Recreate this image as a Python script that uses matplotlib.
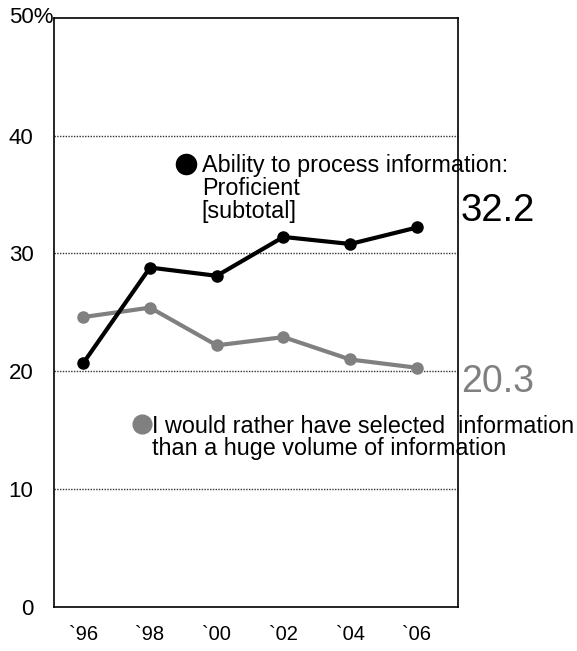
import matplotlib
matplotlib.use("Agg")
import matplotlib.pyplot as plt

plt.rcParams['font.family'] = ['Liberation Sans', 'DejaVu Sans']

years = ["`96", "`98", "`00", "`02", "`04", "`06"]
proficient = [20.7, 28.8, 28.1, 31.4, 30.8, 32.2]
selected_info = [24.6, 25.4, 22.2, 22.9, 21.0, 20.3]
ytick_values = [0, 10, 20, 30, 40]
ytick_labels = ["0", "10", "20", "30", "40"]

BLACK = "#000000"
GRAY = "#808080"

fig = plt.figure(figsize=(5.77, 6.51), dpi=100)
ax = fig.add_axes([0.0941, 0.0676, 0.699, 0.9052])

x = list(range(len(years)))
ax.plot(x, selected_info, color=GRAY, lw=3, marker="o", ms=8, zorder=3,
        solid_joinstyle="round")
ax.plot(x, proficient, color=BLACK, lw=3, marker="o", ms=8, zorder=4,
        solid_joinstyle="round")

ax.set_xlim(-0.435, 5.61)
ax.set_ylim(0, 50)

for v in [10, 20, 30, 40]:
    ax.axhline(v, color="#333333", lw=1, ls=(0, (1, 1)), zorder=1)

ax.set_xticks(x)
ax.set_xticklabels(years, fontsize=14.5)
ax.set_yticks(ytick_values)
ax.set_yticklabels(ytick_labels, fontsize=16)
ax.tick_params(axis="both", length=0)
ax.tick_params(axis="y", pad=15)
ax.tick_params(axis="x", pad=13)
ax.text(-0.445, 50, "50%", fontsize=16, ha="right", va="center",
        clip_on=False)

for s in ax.spines.values():
    s.set_color("black")
    s.set_linewidth(1.2)

# series annotations
ax.plot([1.535], [37.6], "o", color=BLACK, ms=14.5, clip_on=False, zorder=5)
for txt, yy in zip(["Ability to process information:", "Proficient", "[subtotal]"],
                   [36.9, 34.95, 33.0]):
    ax.text(1.775, yy, txt, fontsize=16.8, ha="left", va="baseline",
            color=BLACK, clip_on=False, zorder=6)

ax.plot([0.876], [15.5], "o", color=GRAY, ms=13.5, clip_on=False, zorder=5)
ax.text(1.025, 14.75, "I would rather have selected  information",
        fontsize=16.8, ha="left", va="baseline", color=BLACK, clip_on=False, zorder=6)
ax.text(1.03, 12.88, "than a huge volume of information",
        fontsize=16.8, ha="left", va="baseline", color=BLACK, clip_on=False, zorder=6)

ax.text(5.66, 33.6, f"{proficient[-1]:.1f}", fontsize=27.5, ha="left",
        va="center", color=BLACK, clip_on=False)
ax.text(5.66, 19.1, f"{selected_info[-1]:.1f}", fontsize=27, ha="left",
        va="center", color=GRAY, clip_on=False)

fig.savefig("out.png", dpi=100)
